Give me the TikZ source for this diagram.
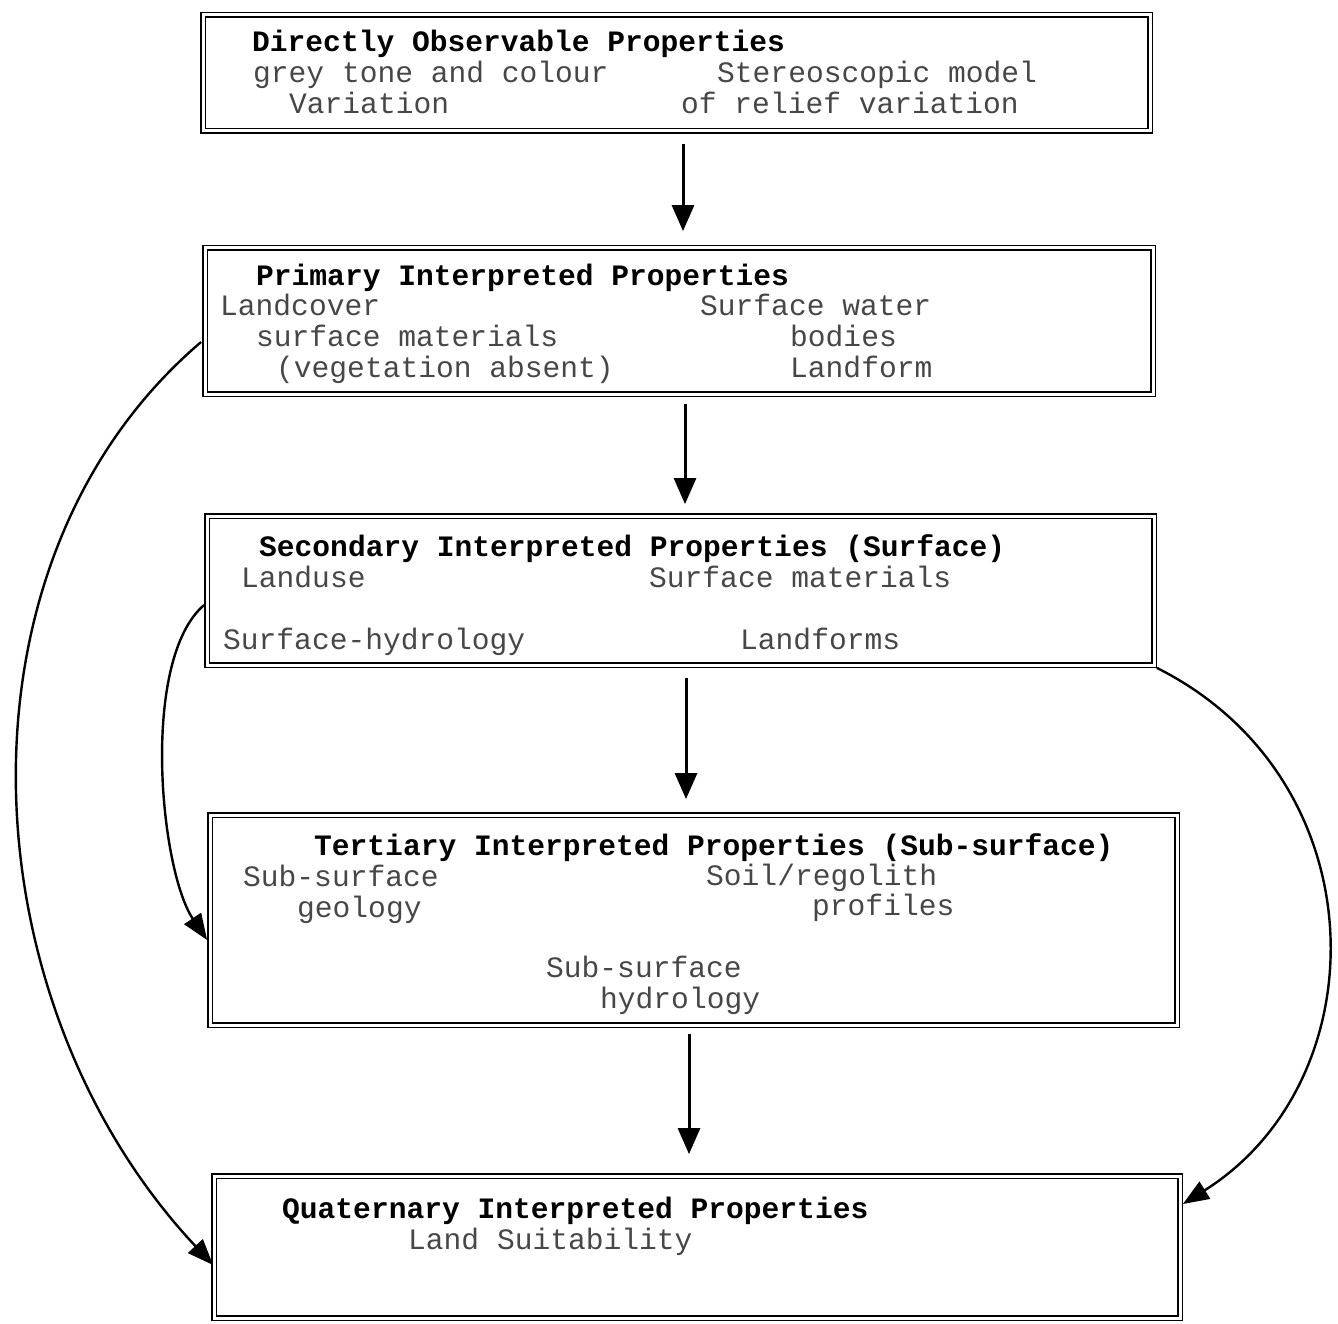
\documentclass[tikz,border=0pt]{standalone}
\usepackage{fontspec}
\setmonofont{Liberation Mono}
\usetikzlibrary{arrows.meta}
\begin{document}
\begin{tikzpicture}[x=1pt,y=-1pt,
  dbox/.style={draw, line width=1.8pt, double distance=3pt, rectangle, inner sep=0pt},
  hd/.style={anchor=base west, inner sep=0pt, font=\fontsize{29.6}{31}\selectfont\ttfamily\bfseries, text=black},
  tx/.style={anchor=base west, inner sep=0pt, font=\fontsize{29.6}{31}\selectfont\ttfamily, text=black!72},
  arr/.style={line width=3pt, -{Triangle[length=26pt,width=22pt]}},
  carr/.style={line width=2.4pt, -{Triangle[length=26pt,width=20pt]}}]
\useasboundingbox[fill=white] (0,0) rectangle (1338,1324);
% boxes
\node[dbox, minimum width=947pt, minimum height=116pt] (b1) at (676.5,73) {};
\node[dbox, minimum width=948pt, minimum height=146pt] (b2) at (679,321) {};
\node[dbox, minimum width=947pt, minimum height=149pt] (b3) at (680.5,590.5) {};
\node[dbox, minimum width=967pt, minimum height=210pt] (b4) at (693.5,920) {};
\node[dbox, minimum width=966pt, minimum height=142pt] (b5) at (697,1247) {};
% box 1 texts
\node[hd] (t11) at (252,52) {Directly Observable Properties};
\node[tx] (t12) at (253,83) {grey tone and colour};
\node[tx] (t13) at (717,83) {Stereoscopic model};
\node[tx] (t14) at (289,114) {Variation};
\node[tx] (t15) at (681,114) {of relief variation};
% box 2 texts
\node[hd] (t21) at (256,286) {Primary Interpreted Properties};
\node[tx] (t22) at (220,316) {Landcover};
\node[tx] (t23) at (700,316) {Surface water};
\node[tx] (t24) at (256,346) {surface materials};
\node[tx] (t25) at (790,346) {bodies};
\node[tx] (t26) at (276,377) {(vegetation absent)};
\node[tx] (t27) at (790,377) {Landform};
% box 3 texts
\node[hd] (t31) at (259,556) {Secondary Interpreted Properties (Surface)};
\node[tx] (t32) at (241,587) {Landuse};
\node[tx] (t33) at (649,587) {Surface materials};
\node[tx] (t34) at (223,649) {Surface-hydrology};
\node[tx] (t35) at (740,649) {Landforms};
% box 4 texts
\node[hd] (t41) at (314,855) {Tertiary Interpreted Properties (Sub-surface)};
\node[tx] (t42) at (243,886) {Sub-surface};
\node[tx] (t43) at (706,885) {Soil/regolith};
\node[tx] (t44) at (297,917) {geology};
\node[tx] (t45) at (812,915) {profiles};
\node[tx] (t46) at (546,977) {Sub-surface};
\node[tx] (t47) at (600,1008) {hydrology};
% box 5 texts
\node[hd] (t51) at (282,1218) {Quaternary Interpreted Properties};
\node[tx] (t52) at (408,1249) {Land Suitability};
% straight arrows
\draw[arr] ([xshift=6.5pt,yshift=-12pt]b1.south) -- ([xshift=4pt,yshift=16pt]b2.north);
\draw[arr] ([xshift=6pt,yshift=-9pt]b2.south) -- ([xshift=4.5pt,yshift=11pt]b3.north);
\draw[arr] ([xshift=5.5pt,yshift=-12pt]b3.south) -- ([xshift=-7.5pt,yshift=15pt]b4.north);
\draw[arr] ([xshift=-4.5pt,yshift=-8pt]b4.south) -- ([xshift=-8pt,yshift=21pt]b5.north);
% curved arrows
\draw[carr] ([xshift=-3pt,yshift=-21pt]b2.west) .. controls (-55,560) and (-35,1000) .. ([yshift=-18pt]b5.west);
\draw[carr] ([xshift=-2pt,yshift=-14.5pt]b3.west) .. controls (140,660) and (160,870) .. ([xshift=-2pt,yshift=-20pt]b4.west);
\draw[carr] ([xshift=2pt,yshift=-2pt]b3.south east) .. controls (1380,780) and (1380,1080) .. ([xshift=2pt,yshift=43pt]b5.east);
\end{tikzpicture}
\end{document}
